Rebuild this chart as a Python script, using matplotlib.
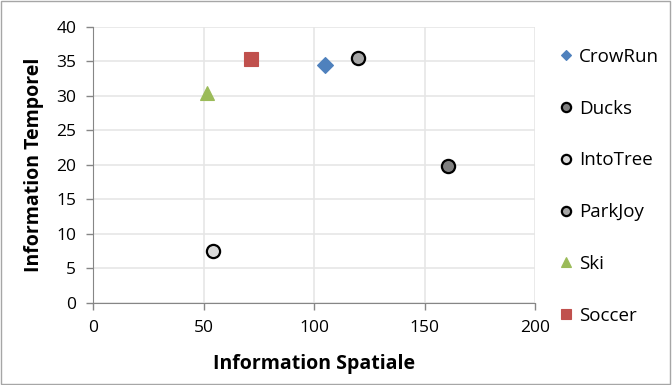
import matplotlib.pyplot as plt
from matplotlib.patches import Rectangle

plt.rcParams["font.family"] = ["Open Sans", "DejaVu Sans"]

names = ["CrowRun", "Ducks", "IntoTree", "ParkJoy", "Ski", "Soccer"]
spatial = [105, 160.5, 54.5, 120, 51.5, 71.5]
temporal = [34.5, 19.8, 7.5, 35.5, 30.5, 35.3]
markers = ["D", "o", "o", "o", "^", "s"]
faces = ["#4f81bd", "#808080", "#d9d9d9", "#a6a6a6", "#9bbb59", "#c0504d"]
edges = ["#4f81bd", "black", "black", "black", "#9bbb59", "#c0504d"]
sizes = [8, 9.5, 9.5, 9.5, 10, 10.5]

fig = plt.figure(figsize=(6.72, 3.85), dpi=100)
ax = fig.add_axes([0.1384, 0.213, 0.658, 0.717])

for n, x, y, m, fc, ec, s in zip(names, spatial, temporal, markers, faces, edges, sizes):
    ax.plot(x, y, linestyle="none", marker=m, markersize=s,
            markerfacecolor=fc, markeredgecolor=ec,
            markeredgewidth=1.6 if ec == "black" else 0.8, label=n)

ax.set_xlim(0, 200)
ax.set_ylim(0, 40)
ax.set_xticks(range(0, 201, 50))
ax.set_yticks(range(0, 41, 5))
ax.grid(True, color="#e6e6e6", linewidth=1.2)
ax.set_axisbelow(True)
for side in ["top", "right"]:
    ax.spines[side].set_visible(False)
for side in ["left", "bottom"]:
    ax.spines[side].set_color("#868686")
ax.tick_params(length=5, width=1, color="#868686", labelsize=12.5, pad=7)
ax.set_xlabel("Information Spatiale", fontsize=14, fontweight="bold", labelpad=13)
ax.set_ylabel("Information Temporel", fontsize=14, fontweight="bold", labelpad=9)

ax.legend(loc="upper left", bbox_to_anchor=(0.823, 0.895), bbox_transform=fig.transFigure,
          frameon=False, fontsize=13.5, labelspacing=1.8, handlelength=0.6,
          handletextpad=0.4, borderaxespad=0, markerscale=0.7)

fig.patches.append(Rectangle((0.002, 0.003), 0.995, 0.994, transform=fig.transFigure,
                             fill=False, edgecolor="#a6a6a6", linewidth=1))

fig.savefig("out.png", dpi=100)
